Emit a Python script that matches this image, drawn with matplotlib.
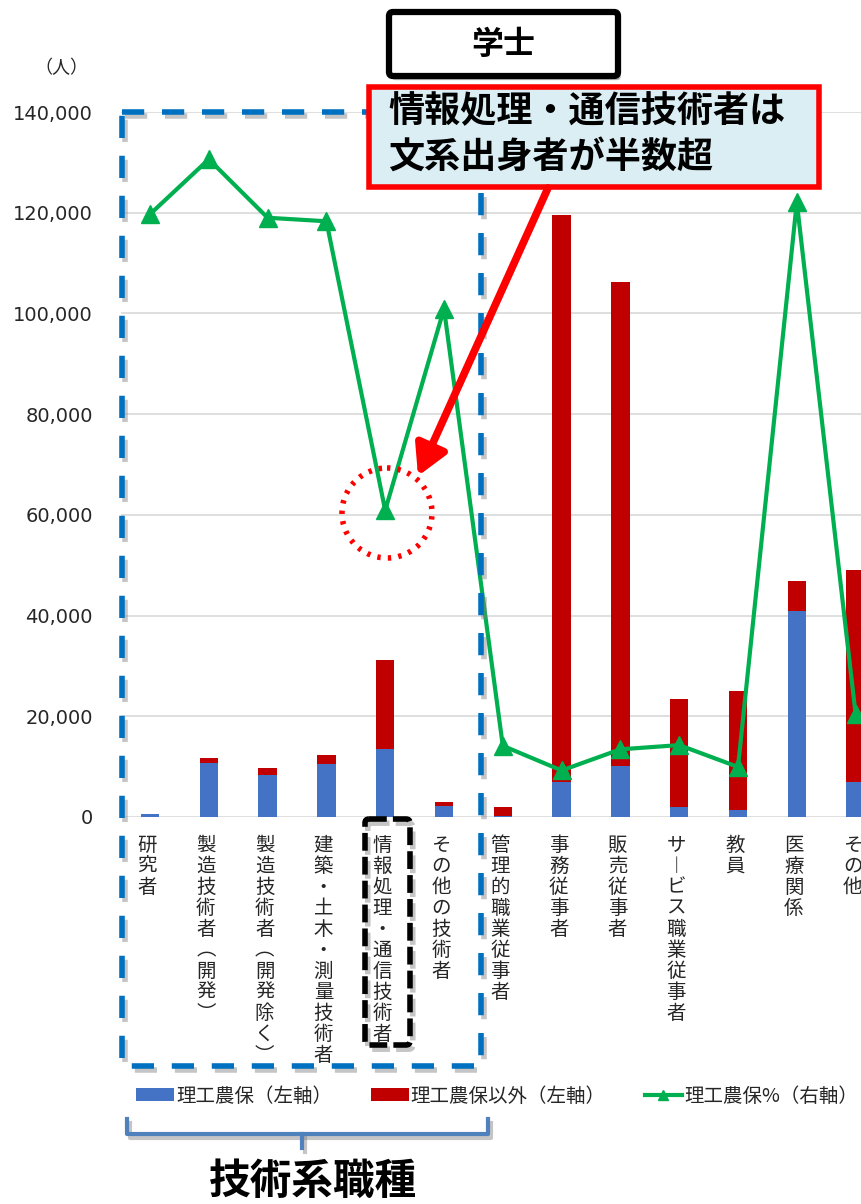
import matplotlib
matplotlib.use('Agg')
import matplotlib.pyplot as plt
import numpy as np
from matplotlib.patches import Rectangle, FancyBboxPatch, Circle, FancyArrowPatch
import matplotlib.patheffects as pe

plt.rcParams['font.family'] = ['Noto Sans CJK JP', 'DejaVu Sans']

categories = ['研究者', '製造技術者（開発）', '製造技術者（開発除く）', '建築・土木・測量技術者',
              '情報処理・通信技術者', 'その他の技術者', '管理的職業従事者', '事務従事者',
              '販売従事者', 'サービス職業従事者', '教員', '医療関係', 'その他']
stem = [500, 10800, 8300, 10500, 13500, 2100, 200, 7000, 10200, 1900, 1400, 40900, 6900]
non_stem = [100, 1000, 1500, 1900, 17700, 900, 1700, 112500, 96000, 21600, 23600, 6000, 42200]
stem_pct = [85.5, 93.3, 85.0, 84.5, 43.5, 72.1, 10.1, 6.6, 9.6, 10.2, 7.1, 87.2, 14.6]
yticks = [0, 20000, 40000, 60000, 80000, 100000, 120000, 140000]

W, H = 861, 1204
fig = plt.figure(figsize=(W / 100, H / 100), dpi=100)
ax = fig.add_axes([120.6 / W, 387 / H, 764.4 / W, 705 / H])
x = np.arange(len(categories))
b1 = ax.bar(x, stem, 0.31, color='#4472C4', label='理工農保（左軸）', zorder=2)
b2 = ax.bar(x, non_stem, 0.31, bottom=stem, color='#C00000', label='理工農保以外（左軸）', zorder=2)
ax.set_xlim(-0.5, len(categories) - 0.5)
ax.set_ylim(0, 140000)
ax.set_yticks(yticks)
ax.set_yticklabels([f'{v:,}' for v in yticks], fontfamily='DejaVu Sans')
ax.yaxis.grid(True, color='#D9D9D9', lw=1.2)
ax.set_axisbelow(True)
for s in ax.spines.values():
    s.set_visible(False)
ax.tick_params(axis='y', length=0, pad=20, labelsize=14, labelcolor='#262626')
ax.tick_params(axis='x', length=0, labelbottom=False)

ax2 = ax.twinx()
ln, = ax2.plot(x, stem_pct, color='#00B050', lw=3, marker='^', ms=13, label='理工農保%（右軸）', zorder=3)
ax2.set_ylim(0, 100)
ax2.set_yticks([])
for s in ax2.spines.values():
    s.set_visible(False)


def vert(s):
    s = s.replace('（', '︵').replace('）', '︶').replace('ー', '︱')
    return '\n'.join(s)


for i, c in enumerate(categories):
    ax.text(i - 0.05, -0.025, vert(c), transform=ax.get_xaxis_transform(), ha='center', va='top',
            fontsize=14, linespacing=1.0, color='#262626')

fig.legend(handles=[b1, b2, ln], loc='center left', bbox_to_anchor=(136 / W, 1 - 1096 / H), ncol=3,
           frameon=False, fontsize=14, handlelength=1.95, handleheight=0.6, handletextpad=0.1,
           columnspacing=2.0, borderpad=0, borderaxespad=0, markerscale=0.6, labelcolor='#262626')

# overlay annotations in pixel coordinates
ov = fig.add_axes([0, 0, 1, 1], zorder=10)
ov.set_xlim(0, W)
ov.set_ylim(H, 0)
ov.axis('off')
ov.patch.set_alpha(0)

shadow = [pe.SimpleLineShadow(offset=(2, -3), shadow_color='gray', alpha=0.45), pe.Normal()]

ov.add_patch(Rectangle((122, 112), 359, 954, fill=False, ec='#0070C0', lw=4,
                       linestyle=(0, (4, 3.2)), path_effects=shadow))

ov.add_patch(FancyBboxPatch((365, 819), 45, 226, boxstyle='round,pad=0,rounding_size=4', fill=False,
                            ec='black', lw=4, linestyle=(0, (3.2, 1.1)), path_effects=shadow))

ov.add_patch(FancyBboxPatch((389, 12), 229, 64, boxstyle='round,pad=0,rounding_size=4', fc='white',
                            ec='black', lw=4.5, path_effects=[pe.SimplePatchShadow(offset=(2, -3), alpha=0.4), pe.Normal()]))
ov.text(503, 45, '学士', ha='center', va='center', fontsize=23, fontweight='bold')
ov.text(61, 68, '（人）', ha='center', va='center', fontsize=13, color='#262626')

ov.add_patch(Rectangle((369, 87), 450, 100, fc='#DAEEF3', ec='#FF0000', lw=4))
ov.text(388, 112, '情報処理・通信技術者は', ha='left', va='center', fontsize=26, fontweight='bold')
ov.text(388, 157, '文系出身者が半数超', ha='left', va='center', fontsize=26, fontweight='bold')

ov.add_patch(FancyArrowPatch((548, 188), (418, 476), arrowstyle='-|>,head_length=0.9,head_width=0.5',
                             mutation_scale=20, lw=5.5, color='#FF0000', shrinkA=0, shrinkB=0))
ov.add_patch(Circle((387, 513), 45, fill=False, ec='#FF0000', lw=4, linestyle=(0, (0.6, 1.3))))

ov.plot([127, 127, 488, 488], [1119, 1134, 1134, 1119], color='#4F81BD', lw=3, solid_joinstyle='round',
        path_effects=shadow)
ov.plot([302, 302], [1134, 1148], color='#4F81BD', lw=3, path_effects=shadow)
ov.text(313, 1182, '技術系職種', ha='center', va='center', fontsize=30, fontweight='bold')

fig.savefig('out.png', dpi=100)
